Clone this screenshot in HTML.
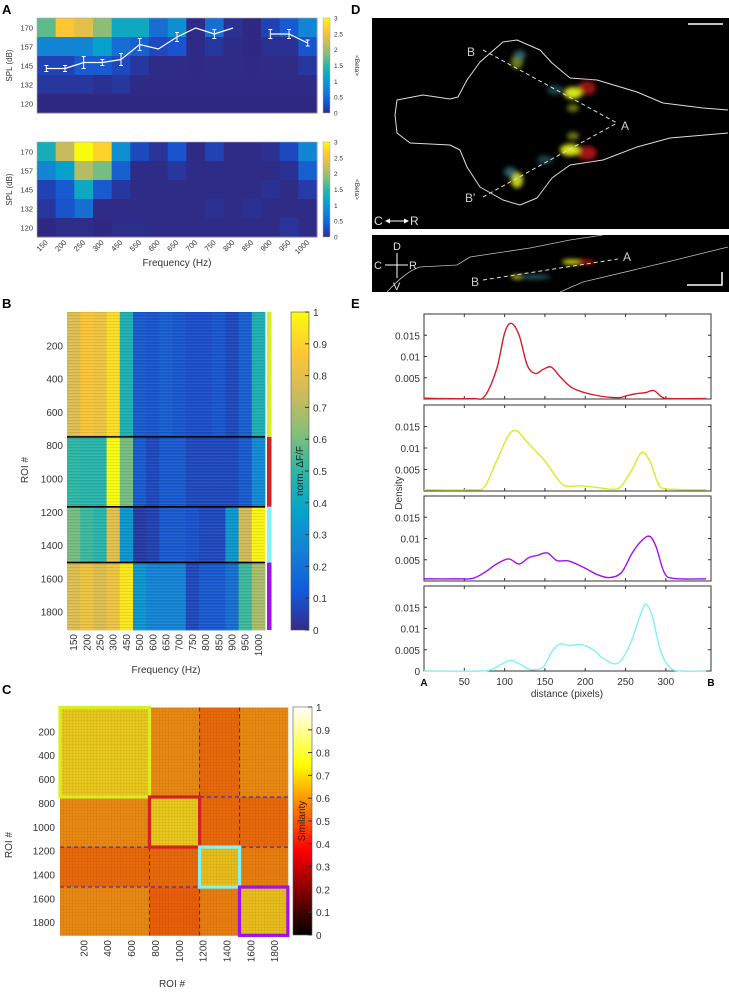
<!DOCTYPE html>
<html><head><meta charset="utf-8"><style>
html,body{margin:0;padding:0;background:#fff;}
svg{display:block;font-family:"Liberation Sans",Arial,sans-serif;}
</style></head><body>
<svg id="fig" width="729" height="993" viewBox="0 0 729 993" xmlns="http://www.w3.org/2000/svg">
<defs>
<filter id="blur" x="-50%" y="-50%" width="200%" height="200%"><feGaussianBlur stdDeviation="2.5"/></filter>
<linearGradient id="parulaV" x1="0" y1="1" x2="0" y2="0">
<stop offset="0" stop-color="#352a87"/><stop offset="0.125" stop-color="#0f5cdd"/><stop offset="0.25" stop-color="#1481d6"/><stop offset="0.375" stop-color="#06a4ca"/><stop offset="0.5" stop-color="#2eb7a4"/><stop offset="0.625" stop-color="#87bf77"/><stop offset="0.75" stop-color="#d1bb59"/><stop offset="0.875" stop-color="#fec832"/><stop offset="1" stop-color="#f9fb0e"/>
</linearGradient>
<linearGradient id="hotV" x1="0" y1="1" x2="0" y2="0">
<stop offset="0" stop-color="#000"/><stop offset="0.375" stop-color="#f00"/><stop offset="0.75" stop-color="#ff0"/><stop offset="1" stop-color="#fff"/>
</linearGradient>
<pattern id="stripes" width="4" height="3" patternUnits="userSpaceOnUse"><rect width="4" height="1" fill="rgba(0,0,0,0.08)"/><rect y="2" width="4" height="1" fill="rgba(255,255,255,0.06)"/></pattern>
<pattern id="grid" width="3" height="3" patternUnits="userSpaceOnUse"><rect width="1" height="3" fill="rgba(120,0,0,0.06)"/><rect width="3" height="1" fill="rgba(120,0,0,0.06)"/></pattern>
</defs>
<g id="root"></g>

<g>
<rect x="372" y="18" width="357" height="211" fill="#000"/>
<path d="M728,110 L703,108 L663,103 L637,92 L597,80 L570,78 L552,63 L540,50 L517,40 L503,42 L480,62 L467,80 L458,97 L450,99 L423,95 L397,100 L395,115 L397,133 L410,143 L450,145 L460,150 L467,167 L480,187 L503,200 L520,205 L537,198 L552,178 L570,165 L603,160 L637,147 L670,138 L728,133" fill="none" stroke="#ddd" stroke-width="1" stroke-linejoin="round"/>
<g filter="url(#blur)">
<ellipse cx="587" cy="88" rx="9" ry="7" fill="#b01818" opacity="0.85"/>
<ellipse cx="573" cy="93" rx="9" ry="6" fill="#d8e418"/>
<ellipse cx="587" cy="153" rx="10" ry="7" fill="#c01818" opacity="0.85"/>
<ellipse cx="570" cy="150" rx="10" ry="6" fill="#d8e418"/>
<ellipse cx="573" cy="108" rx="6" ry="4" fill="#a0a818" opacity="0.7"/>
<ellipse cx="573" cy="136" rx="6" ry="4" fill="#a0a818" opacity="0.7"/>
<ellipse cx="517" cy="180" rx="6" ry="8" fill="#c8d21a"/><ellipse cx="510" cy="172" rx="6" ry="5" fill="#3a7b8a" opacity="0.8"/>
<ellipse cx="517" cy="62" rx="6" ry="7" fill="#8a9a20" opacity="0.8"/><ellipse cx="520" cy="55" rx="6" ry="5" fill="#3a7b8a" opacity="0.7"/>
<ellipse cx="555" cy="90" rx="8" ry="5" fill="#3a7b8a" opacity="0.5"/>
<ellipse cx="545" cy="160" rx="8" ry="5" fill="#3a7b8a" opacity="0.5"/>
</g>
<line x1="483" y1="50" x2="617" y2="123" stroke="#ddd" stroke-dasharray="4,3"/>
<line x1="483" y1="197" x2="617" y2="123" stroke="#ddd" stroke-dasharray="4,3"/>
<line x1="688" y1="24" x2="723" y2="24" stroke="#fff" stroke-width="1.5"/>
<text x="467" y="56" font-size="12" fill="#ccc">B</text>
<text x="621" y="130" font-size="12" fill="#ccc">A</text>
<text x="465" y="202" font-size="12" fill="#ccc">B'</text>
<text x="374" y="225" font-size="12" fill="#ddd">C</text>
<line x1="386" y1="221" x2="408" y2="221" stroke="#fff"/>
<polygon points="385,221 390,218.5 390,223.5" fill="#fff"/><polygon points="409,221 404,218.5 404,223.5" fill="#fff"/>
<text x="410" y="225" font-size="12" fill="#ddd">R</text>
</g>
<g>
<rect x="372" y="235" width="357" height="57" fill="#000"/>
<path d="M387,292 C400,278 410,270 420,267 L457,265 L470,257 L530,248 L570,240 L603,235" fill="none" stroke="#bbb" stroke-width="0.8"/>
<path d="M560,292 L583,282 L663,263 L728,247" fill="none" stroke="#bbb" stroke-width="0.8"/>
<g filter="url(#blur)">
<ellipse cx="579" cy="262" rx="17" ry="2.5" fill="#c01818"/><ellipse cx="571" cy="262" rx="9" ry="2.5" fill="#d8e418"/>
<ellipse cx="535" cy="277" rx="16" ry="2" fill="#3a7b8a" opacity="0.8"/><ellipse cx="517" cy="277" rx="6" ry="2" fill="#c8d21a"/>
</g>
<line x1="483" y1="280" x2="618" y2="259" stroke="#ddd" stroke-dasharray="4,3"/>
<text x="471" y="286" font-size="12" fill="#ccc">B</text>
<text x="623" y="261" font-size="12" fill="#ccc">A</text>
<text x="393" y="250" font-size="11" fill="#ddd">D</text>
<text x="374" y="269" font-size="11" fill="#ddd">C</text>
<text x="409" y="269" font-size="11" fill="#ddd">R</text>
<text x="393" y="290" font-size="11" fill="#ddd">V</text>
<line x1="385" y1="265" x2="408" y2="265" stroke="#fff"/><line x1="397" y1="253" x2="397" y2="278" stroke="#fff"/>
<polyline points="687,285 722,285 722,272" fill="none" stroke="#fff" stroke-width="1.5"/>
</g>
</svg>
<script>
// ---------- data ----------
const freqA = ["150","200","250","300","450","550","600","650","700","750","800","850","900","950","1000"];
const splA = ["170","157","145","132","120"];
const betaTop = [
 [1.7,2.6,2.4,1.9,1.2,1.2,0.6,0.9,0.05,0.6,0.1,0.03,0.25,0.45,0.8],
 [0.8,0.8,0.8,1.1,0.6,0.5,0.3,0.4,0.04,0.15,0.05,0.03,0.1,0.1,0.4],
 [0.25,0.25,0.45,0.45,0.3,0.15,0.05,0.05,0.04,0.05,0.05,0.04,0.05,0.05,0.15],
 [0.15,0.15,0.15,0.1,0.15,0.04,0.04,0.04,0.04,0.04,0.04,0.04,0.04,0.04,0.04],
 [0.03,0.03,0.03,0.03,0.03,0.03,0.03,0.03,0.03,0.03,0.03,0.03,0.03,0.03,0.03]];
const betaBottom = [
 [1.3,2.2,3.0,2.7,0.9,0.3,0.12,0.4,0.04,0.25,0.05,0.05,0.1,0.3,0.8],
 [0.8,1.1,2.1,1.8,0.5,0.05,0.05,0.15,0.05,0.05,0.05,0.05,0.05,0.1,0.5],
 [0.25,0.45,1.2,0.45,0.15,0.05,0.05,0.05,0.05,0.05,0.05,0.05,0.1,0.05,0.2],
 [0.15,0.4,0.6,0.05,0.05,0.05,0.05,0.05,0.05,0.1,0.05,0.1,0.05,0.05,0.05],
 [0.03,0.06,0.06,0.03,0.07,0.07,0.05,0.05,0.05,0.05,0.05,0.05,0.05,0.12,0.05]];
const threshold = [143,143,147,147,149,159,156,164,170,166,170,null,166,166,160];
const thresholdErr = [2,2,4,2,4,4,0,3,0,3,0,null,3,3,2];
const freqB = ["150","200","250","300","450","500","600","650","700","750","800","850","900","950","1000"];
const clusterBounds = [0,750,1170,1505,1910];
const clusterColors = ["#d7ee21","#d62027","#80f4f4","#a010f0"];
const clusterMeans = [
 [0.78,0.86,0.83,0.93,0.45,0.15,0.14,0.16,0.14,0.12,0.12,0.14,0.1,0.16,0.45],
 [0.5,0.48,0.48,1.0,0.6,0.15,0.1,0.15,0.15,0.1,0.1,0.1,0.1,0.15,0.28],
 [0.6,0.52,0.48,0.8,0.32,0.06,0.08,0.15,0.15,0.13,0.1,0.1,0.33,0.75,0.98],
 [0.78,0.83,0.78,0.83,0.95,0.32,0.26,0.26,0.26,0.1,0.15,0.15,0.2,0.52,0.68]];
const simBlocks = [
 [0.66,0.54,0.48,0.54],
 [0.54,0.66,0.48,0.48],
 [0.48,0.48,0.64,0.52],
 [0.54,0.46,0.52,0.64]];
const roiTicks = [200,400,600,800,1000,1200,1400,1600,1800];
const cbTicksB = ["0","0.1","0.2","0.3","0.4","0.5","0.6","0.7","0.8","0.9","1"];
const distTicks = [50,100,150,200,250,300];
const densRed = [[0,0.0002],[20,0.0001],[60,0.0001],[75,0.0006],[90,0.007],[100,0.0155],[108,0.0178],[118,0.015],[128,0.008],[138,0.006],[148,0.007],[158,0.0075],[170,0.005],[185,0.0025],[210,0.001],[240,0.0003],[252,0.0008],[265,0.0013],[275,0.0015],[285,0.002],[295,0.0005],[305,0.0001],[350,0.0001]];
const densYellow = [[0,0.0003],[60,0.0003],[75,0.001],[90,0.007],[105,0.013],[115,0.014],[125,0.012],[140,0.009],[150,0.007],[165,0.003],[175,0.0012],[195,0.0012],[215,0.0008],[235,0.0004],[245,0.0012],[258,0.005],[270,0.009],[280,0.007],[290,0.002],[300,0.0005],[350,0.0003]];
const densPurple = [[0,0.0005],[40,0.0005],[60,0.0006],[75,0.002],[90,0.004],[105,0.0052],[118,0.004],[130,0.0055],[140,0.006],[153,0.0066],[165,0.0048],[180,0.0047],[200,0.003],[215,0.0015],[230,0.0008],[245,0.002],[258,0.0065],[270,0.0095],[280,0.0105],[288,0.008],[298,0.002],[310,0.0006],[350,0.0005]];
const densCyan = [[0,0],[70,0],[85,0.0005],[100,0.002],[108,0.0025],[120,0.0015],[133,0.0003],[148,0.001],[160,0.005],[170,0.0064],[180,0.006],[195,0.0062],[210,0.005],[222,0.003],[240,0.0018],[255,0.006],[268,0.013],[275,0.0157],[283,0.013],[293,0.005],[305,0.0008],[320,0],[350,0]];

// ---------- helpers ----------
const NS="http://www.w3.org/2000/svg";
const root=document.getElementById('root');
function mk(tag,attrs,parent,txt){const e=document.createElementNS(NS,tag);for(const k in attrs)e.setAttribute(k,attrs[k]);if(txt!==undefined)e.textContent=txt;(parent||root).appendChild(e);return e;}
const parulaStops=[[50,38,125],[25,80,205],[20,129,214],[6,164,202],[46,183,164],[135,191,119],[209,187,89],[254,200,50],[249,251,14]];
function parula(t){t=Math.max(0,Math.min(1,t));const p=t*8,i=Math.min(7,Math.floor(p)),f=p-i;const a=parulaStops[i],b=parulaStops[i+1];return `rgb(${Math.round(a[0]+(b[0]-a[0])*f)},${Math.round(a[1]+(b[1]-a[1])*f)},${Math.round(a[2]+(b[2]-a[2])*f)})`;}
function hot(t){const r=Math.min(1,t/0.375),g=Math.max(0,Math.min(1,(t-0.375)/0.375)),b=Math.max(0,Math.min(1,(t-0.75)/0.25));return `rgb(${Math.round(r*230)},${Math.round(g*200+ (r*50))},${Math.round(b*255+g*40)})`;}

[["A",2,14],["B",2,308],["C",2,694],["D",351,14],["E",351,308]].forEach(l=>{
 const t=mk('text',{x:l[1],y:l[2],'font-size':13,'font-weight':'bold',fill:'#000'},root,l[0]);
 
 
});

// ---------- Panel A ----------
function heatA(data,top,name){
 const g=mk('g',{});
 
 
 const x0=37,x1=317,h=95,cw=(x1-x0)/freqA.length,rh=h/splA.length;
 data.forEach((row,r)=>row.forEach((v,c)=>{
  const e=mk('rect',{x:x0+c*cw,y:top+r*rh,width:cw+0.5,height:rh+0.5,fill:parula(v/3)},g);
  
  
 }));
 mk('rect',{x:x0,y:top,width:x1-x0,height:h,fill:'none',stroke:'#aaa','stroke-width':0.6},g);
 splA.forEach((s,r)=>{const t=mk('text',{x:33,y:top+r*rh+rh/2+3,'font-size':7.5,'text-anchor':'end',fill:'#333'},g,s);
  });
 const yl=mk('text',{x:12,y:top+h/2,'font-size':8,'text-anchor':'middle',fill:'#333',transform:`rotate(-90 12 ${top+h/2})`},g,'SPL (dB)');
 
 const cb=mk('rect',{x:323,y:top,width:7,height:h,fill:'url(#parulaV)',stroke:'#aaa','stroke-width':0.5},g);
 
 ["0","0.5","1","1.5","2","2.5","3"].forEach((s,i)=>{mk('text',{x:334,y:top+h-i*h/6+2.5,'font-size':6.5,fill:'#333'},g,s);});
 mk('text',{x:355,y:top+h/2,'font-size':6.5,'text-anchor':'middle',fill:'#333',transform:`rotate(90 355 ${top+h/2})`},g,'<Beta>');
 return {x0,cw,top};
}
const aTop=heatA(betaTop,18,'heatmap-a-top');
heatA(betaBottom,142,'heatmap-a-bottom');
(function(){
 const ys=v=>28+(170-v)*1.5;
 const xs=i=>aTop.x0+i*aTop.cw+aTop.cw/2;
 let seg=[];const segs=[];
 threshold.forEach((v,i)=>{if(v===null){if(seg.length)segs.push(seg);seg=[];}else seg.push([xs(i),ys(v)]);});
 if(seg.length)segs.push(seg);
 segs.forEach(s=>{const p=mk('polyline',{points:s.map(q=>q.join(',')).join(' '),fill:'none',stroke:'#fff','stroke-width':1.2});
  });
 threshold.forEach((v,i)=>{if(v===null||!thresholdErr[i])return;const x=xs(i),e=thresholdErr[i];
  mk('line',{x1:x,y1:ys(v+e),x2:x,y2:ys(v-e),stroke:'#fff','stroke-width':1});
  mk('line',{x1:x-2,y1:ys(v+e),x2:x+2,y2:ys(v+e),stroke:'#fff'});
  mk('line',{x1:x-2,y1:ys(v-e),x2:x+2,y2:ys(v-e),stroke:'#fff'});});
 freqA.forEach((f,i)=>{const x=xs(i)+2,y=243;const t=mk('text',{x:x,y:y,'font-size':7.5,'text-anchor':'end',fill:'#333',transform:`rotate(-45 ${x} ${y})`},root,f);
  });
 const t=mk('text',{x:177,y:266,'font-size':10,'text-anchor':'middle',fill:'#333'},root,'Frequency (Hz)');
 
})();

// ---------- Panel B ----------
(function(){
 const x0=67,x1=265,y0=312,yPer=0.1665,cw=(x1-x0)/freqB.length;
 const ys=r=>y0+r*yPer;
 const g=mk('g',{});
 
 
 clusterMeans.forEach((row,k)=>row.forEach((v,c)=>{
  const e=mk('rect',{x:x0+c*cw,y:ys(clusterBounds[k]),width:cw+0.4,height:ys(clusterBounds[k+1])-ys(clusterBounds[k])+0.4,fill:parula(v)},g);
  
  
 }));
 mk('rect',{x:x0,y:y0,width:x1-x0,height:ys(1910)-y0,fill:'url(#stripes)'},g);
 clusterBounds.slice(1,4).forEach(b=>{const l=mk('line',{x1:x0,x2:x1,y1:ys(b),y2:ys(b),stroke:'#000','stroke-width':1.6},g);
  });
 clusterColors.forEach((c,k)=>{const r=mk('rect',{x:267,y:ys(clusterBounds[k]),width:4.5,height:ys(clusterBounds[k+1])-ys(clusterBounds[k]),fill:c});
  });
 roiTicks.forEach(v=>{const t=mk('text',{x:63,y:ys(v)+4,'font-size':10,'text-anchor':'end',fill:'#333'},root,String(v));
  });
 const yl=mk('text',{x:28,y:470,'font-size':10,'text-anchor':'middle',fill:'#333',transform:'rotate(-90 28 470)'},root,'ROI #');
 
 freqB.forEach((f,i)=>{const x=x0+i*cw+cw/2+3.5,y=634;const t=mk('text',{x:x,y:y,'font-size':10,'text-anchor':'end',fill:'#333',transform:`rotate(-90 ${x} ${y})`},root,f);
  });
 const xt=mk('text',{x:166,y:673,'font-size':10,'text-anchor':'middle',fill:'#333'},root,'Frequency (Hz)');
 
 const cb=mk('rect',{x:291,y:312,width:18,height:318,fill:'url(#parulaV)',stroke:'#555','stroke-width':0.6});
 
 cbTicksB.forEach((s,i)=>{const y=630-i*31.8;mk('line',{x1:305,x2:309,y1:y,y2:y,stroke:'#333'});mk('text',{x:313,y:y+4,'font-size':10,fill:'#333'},root,s);});
 mk('text',{x:303,y:471,'font-size':10,'text-anchor':'middle',fill:'#222',transform:'rotate(-90 303 471)'},root,'norm. ΔF/F');
})();

// ---------- Panel C ----------
(function(){
 const x0=60,y0=707.5,per=0.1193;
 const p=r=>r*per;
 const g=mk('g',{});
 
 
 simBlocks.forEach((row,i)=>row.forEach((v,j)=>{
  const e=mk('rect',{x:x0+p(clusterBounds[j]),y:y0+p(clusterBounds[i]),width:p(clusterBounds[j+1]-clusterBounds[j])+0.4,height:p(clusterBounds[i+1]-clusterBounds[i])+0.4,fill:hot(v)},g);
  
  
 }));
 mk('rect',{x:x0,y:y0,width:p(1910),height:p(1910),fill:'url(#grid)'},g);
 clusterBounds.slice(1,4).forEach(b=>{
  mk('line',{x1:x0+p(b),x2:x0+p(b),y1:y0,y2:y0+p(1910),stroke:'#2020e0','stroke-width':1,'stroke-dasharray':'4,3'},g);
  mk('line',{y1:y0+p(b),y2:y0+p(b),x1:x0,x2:x0+p(1910),stroke:'#2020e0','stroke-width':1,'stroke-dasharray':'4,3'},g);
 });
 clusterColors.forEach((c,k)=>{const a=clusterBounds[k],b=clusterBounds[k+1];
  const r=mk('rect',{x:x0+p(a),y:y0+p(a),width:p(b-a),height:p(b-a),fill:'none',stroke:c,'stroke-width':3.2});
  });
 roiTicks.forEach(v=>{const t=mk('text',{x:55,y:y0+p(v)+4,'font-size':10,'text-anchor':'end',fill:'#333'},root,String(v));
  
  const x=x0+p(v)+3.5,y=940;const u=mk('text',{x:x,y:y,'font-size':10,'text-anchor':'end',fill:'#333',transform:`rotate(-90 ${x} ${y})`},root,String(v));
  });
 mk('text',{x:12,y:845,'font-size':10,'text-anchor':'middle',fill:'#333',transform:'rotate(-90 12 845)'},root,'ROI #');
 mk('text',{x:172,y:987,'font-size':10,'text-anchor':'middle',fill:'#333'},root,'ROI #');
 const cb=mk('rect',{x:293,y:707,width:19,height:228,fill:'url(#hotV)',stroke:'#555','stroke-width':0.6});
 
 cbTicksB.forEach((s,i)=>{const y=935-i*22.8;mk('line',{x1:308,x2:312,y1:y,y2:y,stroke:'#333'});mk('text',{x:316,y:y+4,'font-size':10,fill:'#333'},root,s);});
 mk('text',{x:305,y:821,'font-size':10,'text-anchor':'middle',fill:'#222',transform:'rotate(-90 305 821)'},root,'Similarity');
})();

// ---------- Panel E ----------
(function(){
 const x0=424,x1=711,dMax=356;
 const xs=d=>x0+d*(x1-x0)/dMax;
 const boxes=[[314,399],[405,491],[496,581],[586,671]];
 const series=[densRed,densYellow,densPurple,densCyan];
 const cols=["#d21f26","#d4ee22","#a010f0","#80f2f4"];
 boxes.forEach((b,k)=>{
  const ys=v=>b[1]-v*(b[1]-b[0])/0.02;
  const g=mk('g',{});
  
  
  mk('rect',{x:x0,y:b[0],width:x1-x0,height:b[1]-b[0],fill:'#fff',stroke:'#333','stroke-width':1},g);
  distTicks.forEach(d=>{mk('line',{x1:xs(d),x2:xs(d),y1:b[0],y2:b[0]+3,stroke:'#333'},g);mk('line',{x1:xs(d),x2:xs(d),y1:b[1],y2:b[1]-3,stroke:'#333'},g);});
  const yt=k===3?[0,0.005,0.01,0.015]:[0.005,0.01,0.015];
  yt.forEach(v=>{mk('line',{x1:x0,x2:x0+3,y1:ys(v),y2:ys(v),stroke:'#333'},g);mk('line',{x1:x1,x2:x1-3,y1:ys(v),y2:ys(v),stroke:'#333'},g);
   mk('text',{x:x0-4,y:ys(v)+4,'font-size':10,'text-anchor':'end',fill:'#333'},g,String(v));});
  const pts=series[k].map(q=>[xs(q[0]),ys(q[1])]);
  let d=`M${pts[0][0]},${pts[0][1]}`;
  for(let i=0;i<pts.length-1;i++){const p0=pts[Math.max(0,i-1)],p1=pts[i],p2=pts[i+1],p3=pts[Math.min(pts.length-1,i+2)];
   d+=` C${p1[0]+(p2[0]-p0[0])/6},${p1[1]+(p2[1]-p0[1])/6} ${p2[0]-(p3[0]-p1[0])/6},${p2[1]-(p3[1]-p1[1])/6} ${p2[0]},${p2[1]}`;}
  const path=mk('path',{d:d,fill:'none',stroke:cols[k],'stroke-width':1.4},g);
  
  
 });
 distTicks.forEach(d=>{const t=mk('text',{x:xs(d),y:685,'font-size':10,'text-anchor':'middle',fill:'#333'},root,String(d));
  });
 mk('text',{x:424,y:686,'font-size':10,'font-weight':'bold','text-anchor':'middle',fill:'#000'},root,'A');
 mk('text',{x:711,y:686,'font-size':10,'font-weight':'bold','text-anchor':'middle',fill:'#000'},root,'B');
 mk('text',{x:567,y:697,'font-size':10,'text-anchor':'middle',fill:'#333'},root,'distance (pixels)');
 mk('text',{x:402,y:493,'font-size':10,'text-anchor':'middle',fill:'#333',transform:'rotate(-90 402 493)'},root,'Density');
})();
</script>
</body></html>
